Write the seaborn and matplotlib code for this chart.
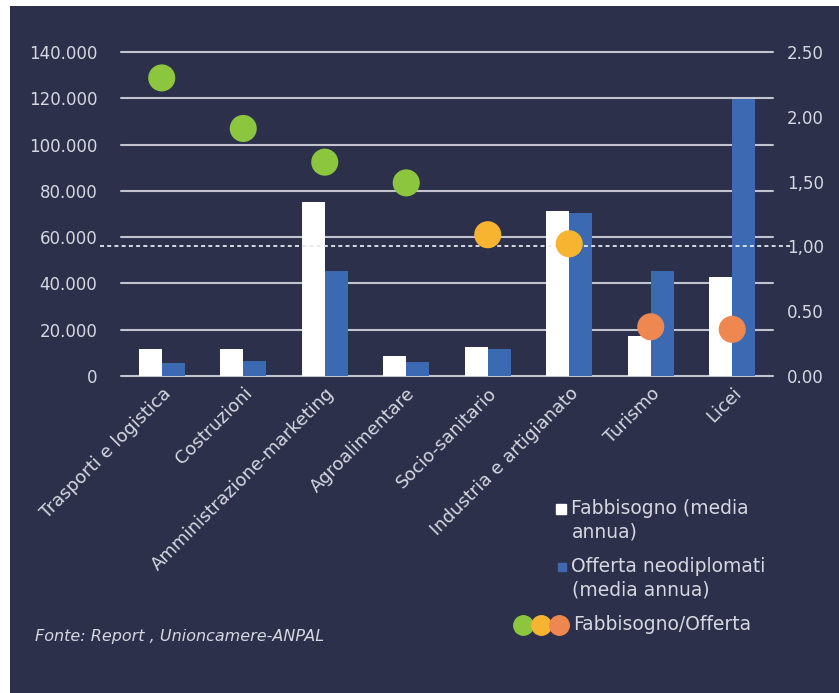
import matplotlib
matplotlib.use("Agg")
import matplotlib.pyplot as plt
from matplotlib.patches import Rectangle
from matplotlib.lines import Line2D
import seaborn as sns
import pandas as pd

# ---- data ----
categories = ["Trasporti e logistica", "Costruzioni", "Amministrazione-marketing",
              "Agroalimentare", "Socio-sanitario", "Industria e artigianato",
              "Turismo", "Licei"]
fabbisogno = [11700, 11700, 75200, 8600, 12500, 71300, 17300, 42800]
offerta = [5600, 6500, 45400, 6000, 11700, 70400, 45400, 119700]
rapporto = [2.30, 1.91, 1.65, 1.49, 1.09, 1.02, 0.38, 0.36]
rapporto_livello = ["alto", "alto", "alto", "alto", "medio", "medio", "basso", "basso"]
left_ticks = [0, 20000, 40000, 60000, 80000, 100000, 120000, 140000]
left_ticklabels = ["0", "20.000", "40.000", "60.000", "80.000", "100.000", "120.000", "140.000"]
right_ticks = [0.0, 0.5, 1.0, 1.5, 2.0, 2.5]
right_ticklabels = ["0.00", "0.50", "1,00", "1,50", "2.00", "2.50"]
series_names = ["Fabbisogno (media\nannua)", "Offerta neodiplomati\n(media annua)"]
ratio_name = "Fabbisogno/Offerta"
source = "Fonte: Report , Unioncamere-ANPAL"

# ---- style ----
BG = "#2c304b"
TXT = "#d6d7df"
GRID = "#c2c3cc"
WHITE = "#ffffff"
BLUE = "#3c6ab2"
dot_colors = {"alto": "#8cc63f", "medio": "#f6b431", "basso": "#ef8750"}

sns.set_style("white")
plt.rcParams["font.family"] = ["DejaVu Sans"]

W, H = 839, 693
fig = plt.figure(figsize=(W / 100, H / 100), dpi=100)
fig.patch.set_facecolor("white")
fig.patches.append(Rectangle((10 / W, 0), 1 - 10 / W, 1 - 6 / H,
                             transform=fig.transFigure, facecolor=BG,
                             edgecolor="none", zorder=-10))

ax = fig.add_axes([121 / W, 1 - 376 / H, 652 / W, 324 / H])
ax.set_facecolor("none")

df = pd.DataFrame({
    "cat": categories * 2,
    "val": fabbisogno + offerta,
    "serie": [series_names[0]] * len(categories) + [series_names[1]] * len(categories),
})
sns.barplot(data=df, x="cat", y="val", hue="serie", order=categories,
            hue_order=series_names, palette=[WHITE, BLUE], width=0.57,
            gap=0, legend=False, ax=ax, saturation=1, zorder=3)
for p in ax.patches:
    p.set_edgecolor("none")

ax.set_ylim(0, 140000)
ax.set_xlim(-0.5, len(categories) - 0.5)
ax.set_yticks(left_ticks)
ax.set_yticklabels(left_ticklabels)
ax.yaxis.grid(True, color=GRID, lw=1.5, zorder=1)
for gl in ax.get_ygridlines():
    gl.set_clip_on(False)
ax.set_axisbelow(True)
for s in ax.spines.values():
    s.set_visible(False)
ax.tick_params(axis="y", length=0, pad=17, labelsize=12, labelcolor=TXT)
ax.tick_params(axis="x", length=0, pad=6, labelsize=13, labelcolor=TXT)
ax.set_xticks(range(len(categories)))
ax.set_xticklabels(categories, rotation=45, ha="right", rotation_mode="anchor")
ax.set_xlabel("")
ax.set_ylabel("")

ax2 = ax.twinx()
ax2.set_facecolor("none")
ax2.set_ylim(0, 2.5)
ax2.set_yticks(right_ticks)
ax2.set_yticklabels(right_ticklabels)
ax2.tick_params(axis="y", length=0, pad=10, labelsize=12, labelcolor=TXT)
for s in ax2.spines.values():
    s.set_visible(False)
ax2.axhline(1.0, xmin=-0.032, xmax=1.027, color="#e6e6ee", lw=1.3,
            ls=(0, (2.2, 1.8)), clip_on=False, zorder=2)

dfr = pd.DataFrame({"cat": categories, "r": rapporto, "lvl": rapporto_livello})
sns.scatterplot(data=dfr, x="cat", y="r", hue="lvl", palette=dot_colors,
                s=380, edgecolor="none", legend=False, ax=ax2, zorder=5)
ax2.set_xlabel("")
ax2.set_ylabel("")


# ---- legend (drawn in figure pixel coordinates) ----
def fx(px):
    return px / W


def fy(py):
    return 1 - py / H


LEG_FS = 13.5
fig.add_artist(Line2D([fx(561)], [fy(509)], marker="s", ls="none", color=WHITE,
                     markersize=7, transform=fig.transFigure))
fig.text(fx(571), fy(509), series_names[0].split("\n")[0], fontsize=LEG_FS,
         color=TXT, va="center", ha="left")
fig.text(fx(572), fy(532), series_names[0].split("\n")[1], fontsize=LEG_FS,
         color=TXT, va="center", ha="left")
fig.add_artist(Line2D([fx(562)], [fy(567)], marker="s", ls="none", color=BLUE,
                     markersize=6, transform=fig.transFigure))
fig.text(fx(571), fy(567), series_names[1].split("\n")[0], fontsize=LEG_FS,
         color=TXT, va="center", ha="left")
fig.text(fx(572), fy(590), series_names[1].split("\n")[1], fontsize=LEG_FS,
         color=TXT, va="center", ha="left")
for i, c in enumerate(dot_colors.values()):
    fig.add_artist(Line2D([fx(523 + 18 * i)], [fy(625)], marker="o", ls="none",
                          color=c, markersize=14, transform=fig.transFigure))
fig.text(fx(573), fy(625), ratio_name, fontsize=LEG_FS, color=TXT,
         va="center", ha="left")

fig.text(fx(35), fy(636), source, fontsize=11.5, style="italic",
         color=TXT, va="center", ha="left")

fig.savefig("out.png", dpi=100, facecolor=fig.get_facecolor())
